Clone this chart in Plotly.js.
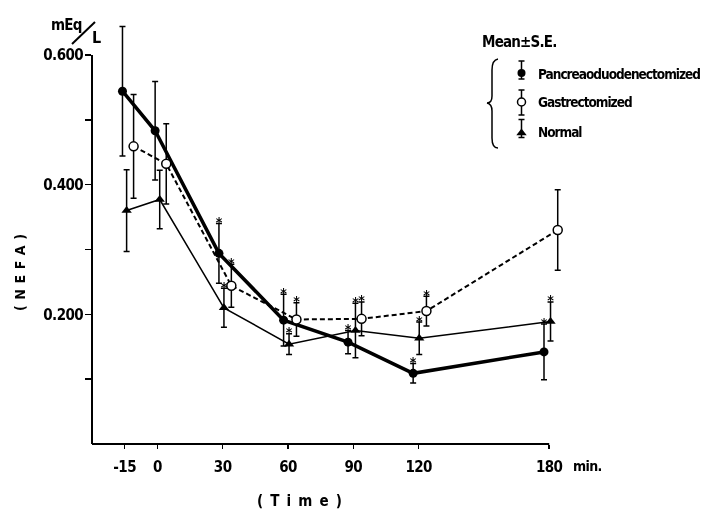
<!DOCTYPE html>
<html>
<head>
<meta charset="utf-8">
<script src="https://cdn.plot.ly/plotly-3.0.1.min.js"></script>
<style>
html,body{margin:0;padding:0;background:#fff;}
#chart{width:703px;height:513px;}
#chart .main-svg{filter:grayscale(100%);}
#chart .xtick text, #chart .ytick text{letter-spacing:-0.6px;}
</style>
</head>
<body>
<div id="chart"></div>
<script>
// ---- data ----
const xTickVals = [-15, 0, 30, 60, 90, 120, 180];
const xTickText = ['-15', '0', '30', '60', '90', '120', '180'];
const yTickVals = [0.1, 0.2, 0.3, 0.4, 0.5, 0.6];
const yTickText = ['', '0.200', '', '0.400', '', '0.600'];

const seriesNames = ['Pancreaoduodenectomized', 'Gastrectomized', 'Normal'];

const pancX   = [-16.0, -1.0, 28.3, 58.0, 87.6, 117.5, 177.6];
const pancY   = [0.544, 0.483, 0.294, 0.191, 0.157, 0.109, 0.142];
const pancSE  = [0.100, 0.076, 0.046, 0.040, 0.018, 0.015, 0.043];
const pancSig = [0, 0, 1, 1, 1, 1, 1];

const gastX   = [-10.9, 4.1, 34.0, 63.9, 93.8, 123.6, 183.9];
const gastY   = [0.459, 0.432, 0.244, 0.192, 0.193, 0.205, 0.330];
const gastSE  = [0.080, 0.062, 0.033, 0.026, 0.026, 0.023, 0.062];
const gastSig = [0, 0, 1, 1, 1, 1, 0];

const normX   = [-14.1, 1.1, 30.6, 60.5, 91.0, 120.3, 180.6];
const normY   = [0.360, 0.377, 0.210, 0.154, 0.175, 0.163, 0.189];
const normSE  = [0.063, 0.045, 0.030, 0.016, 0.042, 0.025, 0.030];
const normSig = [0, 0, 1, 1, 1, 1, 1];

// ---- layout geometry ----
const W = 703, H = 513;
const M = {l: 92, r: 132, t: 16, b: 69};
const XR = [-30, 190], YR = [0, 0.66];
const PW = W - M.l - M.r, PH = H - M.t - M.b;
const px2paperX = p => (p - M.l) / PW;
const px2paperY = p => (H - M.b - p) / PH;

const FONT = "'DejaVu Sans Condensed', 'Liberation Sans', sans-serif";
const bold = (size) => ({family: FONT, size: size, color: '#000000', weight: 'bold'});
const spaced = (txt, ls) => '<span style="letter-spacing:' + ls + 'px">' + txt + '</span>';

function errBar(se) {
  return {type: 'data', array: se, visible: true, color: '#000', thickness: 1.5, width: 3};
}
// significance asterisks as text, just above each flagged error bar
function starTrace(x, y, se, sig) {
  return {
    x: x, y: y.map((v, i) => v + se[i]), mode: 'text',
    text: sig.map(s => s ? '*' : ''), textposition: 'middle center',
    textfont: {family: FONT, size: 14, color: '#000000', weight: 'bold'},
    cliponaxis: false, hoverinfo: 'skip', showlegend: false
  };
}

const traces = [
  {x: normX, y: normY, mode: 'lines+markers', name: seriesNames[2],
   line: {color: '#000', width: 1.5},
   marker: {symbol: 'triangle-up', size: 9, color: '#000'},
   error_y: errBar(normSE), cliponaxis: false, showlegend: false},
  {x: pancX, y: pancY, mode: 'lines+markers', name: seriesNames[0],
   line: {color: '#000', width: 3.5},
   marker: {symbol: 'circle', size: 9, color: '#000'},
   error_y: errBar(pancSE), cliponaxis: false, showlegend: false},
  {x: gastX, y: gastY, mode: 'lines+markers', name: seriesNames[1],
   line: {color: '#000', width: 2, dash: '5px,3px'},
   marker: {symbol: 'circle', size: 9, color: '#fff', line: {color: '#000', width: 1.5}},
   error_y: errBar(gastSE), cliponaxis: false, showlegend: false},
  starTrace(normX, normY, normSE, normSig),
  starTrace(pancX, pancY, pancSE, pancSig),
  starTrace(gastX, gastY, gastSE, gastSig)
];

// legend key symbols (drawn on a pixel-scaled overlay axis pair)
const legY = [73, 102, 133];
const legUp = [12, 12, 13.5];
const legDown = [6, 13, 4.5];
const legSym = [
  {symbol: 'circle', size: 8, color: '#000'},
  {symbol: 'circle', size: 8, color: '#fff', line: {color: '#000', width: 1.5}},
  {symbol: 'triangle-up', size: 9, color: '#000'}
];
legSym.forEach((m, i) => {
  traces.push({
    x: [521.5], y: [legY[i]], xaxis: 'x2', yaxis: 'y2', mode: 'markers',
    marker: m, showlegend: false, hoverinfo: 'skip', cliponaxis: false,
    error_y: {type: 'data', symmetric: false, array: [legDown[i]], arrayminus: [legUp[i]],
              color: '#000', thickness: 1.5, width: 3}
  });
});

const annotations = [
  {text: spaced('mEq', -0.8), x: px2paperX(66), y: px2paperY(25), font: bold(15)},
  {text: 'L', x: px2paperX(96), y: px2paperY(38), font: bold(16)},
  {text: spaced('Mean±S.E.', -0.8), x: px2paperX(480), y: px2paperY(42), xanchor: 'left', font: bold(15)},
  {text: spaced(seriesNames[0], -1), x: px2paperX(536), y: px2paperY(74), xanchor: 'left', font: bold(13.5)},
  {text: spaced(seriesNames[1], -1), x: px2paperX(536), y: px2paperY(102), xanchor: 'left', font: bold(13.5)},
  {text: spaced(seriesNames[2], -1), x: px2paperX(536), y: px2paperY(132), xanchor: 'left', font: bold(13.5)},
  {text: spaced('min.', -0.6), x: px2paperX(571), y: px2paperY(466), xanchor: 'left', font: bold(14)},
  {text: spaced('( T i m e )', 1.2), x: px2paperX(300), y: px2paperY(501), font: bold(15)},
  {text: spaced('( N E F A )', 0.6), x: px2paperX(20), y: px2paperY(272), textangle: -90, font: bold(14)}
].map(a => Object.assign({xref: 'paper', yref: 'paper', showarrow: false, xanchor: 'center', yanchor: 'middle'}, a));

const xEndFrac = (180 - XR[0]) / (XR[1] - XR[0]);
const yTopFrac = (0.6 - YR[0]) / (YR[1] - YR[0]);

const shapes = [
  {type: 'line', xref: 'paper', yref: 'paper', x0: 0, x1: xEndFrac, y0: 0, y1: 0, line: {color: '#000', width: 2}},
  {type: 'line', xref: 'paper', yref: 'paper', x0: 0, x1: 0, y0: 0, y1: yTopFrac, line: {color: '#000', width: 2}},
  {type: 'line', xref: 'paper', yref: 'paper', x0: px2paperX(72), y0: px2paperY(44), x1: px2paperX(95), y1: px2paperY(22), line: {color: '#000', width: 2}},
  {type: 'path', xref: 'x2', yref: 'y2', line: {color: '#000', width: 1.5},
   path: 'M 498,59 Q 492,60 492,70 L 492,96 Q 492,103 487,103 Q 492,104 492,111 L 492,138 Q 492,148 498,148'}
];

const layout = {
  width: W, height: H, margin: M,
  paper_bgcolor: '#fff', plot_bgcolor: '#fff', showlegend: false,
  xaxis: {range: XR, tickvals: xTickVals, ticktext: xTickText, ticks: 'outside', ticklen: 4,
          tickwidth: 1.5, tickcolor: '#000', showgrid: false, zeroline: false, showline: false,
          tickfont: bold(15), ticklabelstandoff: 5, fixedrange: true},
  yaxis: {range: YR, tickvals: yTickVals, ticktext: yTickText, ticks: 'outside', ticklen: 6,
          tickwidth: 1.5, tickcolor: '#000', showgrid: false, zeroline: false, showline: false,
          tickfont: bold(15), ticklabelstandoff: -1, fixedrange: true},
  xaxis2: {overlaying: 'x', range: [M.l, W - M.r], visible: false, anchor: 'y2', fixedrange: true},
  yaxis2: {overlaying: 'y', range: [H - M.b, M.t], visible: false, anchor: 'x2', fixedrange: true},
  annotations: annotations, shapes: shapes
};

Plotly.newPlot('chart', traces, layout, {staticPlot: true});
</script>
</body>
</html>
